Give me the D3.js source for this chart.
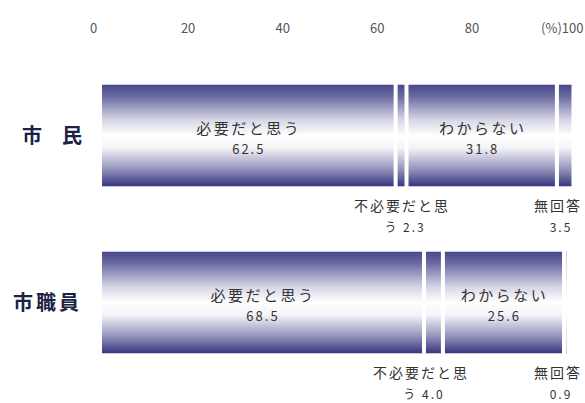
<!DOCTYPE html>
<html>
<head>
<meta charset="utf-8">
<script src="https://cdn.jsdelivr.net/npm/d3@7"></script>
<style>
  body { margin: 0; background: #fff; }
  text { font-family: "Noto Sans CJK JP", "Noto Sans", sans-serif; }
</style>
</head>
<body>
<div class="canvas"></div>
<script>
// data
const categories = ['市　民', '市職員'];
const answers = ['必要だと思う', '不必要だと思う', 'わからない', '無回答'];
const necessary = [62.5, 68.5];
const unnecessary = [2.3, 4.0];
const unknown = [31.8, 25.6];
const noAnswer = [3.5, 0.9];
const tickValues = [0, 20, 40, 60, 80, 100];

// wrapped texts for the labels under the narrow segments
const outsideLines = {
  '不必要だと思う': ['不必要だと思', 'う'],
  '無回答': ['無回答', '']
};

// dimensions
const width = 585;
const height = 403;

const svg = d3.select('.canvas')
  .append('svg')
  .attr('width', width)
  .attr('height', height);

// gradient for bars (navy at edges, white in the middle)
const grad = svg.append('defs').append('linearGradient')
  .attr('id', 'barGrad')
  .attr('x1', 0).attr('y1', 0).attr('x2', 0).attr('y2', 1);
[
  ['0%', '#44448a'],
  ['12%', '#6a6aa2'],
  ['35%', '#d6d6e6'],
  ['50%', '#ffffff'],
  ['62%', '#f4f4f8'],
  ['82%', '#9696be'],
  ['100%', '#30307a']
].forEach(s => grad.append('stop').attr('offset', s[0]).attr('stop-color', s[1]));

// scales
const x = d3.scaleLinear().domain([0, 100]).range([100, 573]);
const y = d3.scaleBand().domain(categories)
  .range([52, 386]).paddingInner(0.38).paddingOuter(0.19);

// table for the stack
const table = categories.map((c, i) => ({
  cat: c,
  [answers[0]]: necessary[i],
  [answers[1]]: unnecessary[i],
  [answers[2]]: unknown[i],
  [answers[3]]: noAnswer[i]
}));
const series = d3.stack().keys(answers)(table);

// top axis
const xAxis = d3.axisTop(x)
  .tickValues(tickValues)
  .tickSize(0)
  .tickFormat(d => d === 100 ? '(%)100' : d);
const xAxisGroup = svg.append('g')
  .attr('transform', 'translate(0, 20)')
  .call(xAxis);
xAxisGroup.select('.domain').remove();
xAxisGroup.selectAll('text')
  .attr('fill', '#555')
  .attr('font-size', 13)
  .attr('y', 13)
  .attr('dx', d => d === 100 ? 10 : -7)
  .attr('text-anchor', d => d === 100 ? 'end' : 'middle');

// category labels
svg.append('g').selectAll('text')
  .data(categories)
  .enter().append('text')
  .attr('x', 82)
  .attr('y', d => y(d) + y.bandwidth() / 2 + 7)
  .attr('text-anchor', 'end')
  .attr('font-size', 20)
  .attr('font-weight', 'bold')
  .attr('letter-spacing', (d, i) => i === 0 ? 0 : 3)
  .attr('fill', '#1c2244')
  .text(d => d);

// bar segments
const layers = svg.append('g').selectAll('g')
  .data(series)
  .enter().append('g');

layers.selectAll('rect')
  .data(s => s.map(d => ({ key: s.key, d })))
  .enter().append('rect')
  .attr('x', p => x(p.d[0]) + 1)
  .attr('y', p => y(p.d.data.cat))
  .attr('width', p => Math.max(1, x(p.d[1]) - x(p.d[0]) - 2))
  .attr('height', y.bandwidth())
  .attr('fill', 'url(#barGrad)')
  .attr('stroke', '#fff')
  .attr('stroke-width', 2);

// labels inside wide segments
const inside = [answers[0], answers[2]];
const outside = [answers[1], answers[3]];

series.filter(s => inside.includes(s.key)).forEach(s => {
  s.forEach(d => {
    const cx = (x(d[0]) + x(d[1])) / 2;
    const cy = y(d.data.cat) + y.bandwidth() / 2;
    const g = svg.append('g').attr('fill', '#333').attr('text-anchor', 'middle');
    g.append('text').attr('x', cx + 1).attr('y', cy - 2)
      .attr('font-size', 15).attr('letter-spacing', 2.5).text(s.key);
    g.append('text').attr('x', cx + 1).attr('y', cy + 18)
      .attr('font-size', 13).attr('letter-spacing', 2).text(d.data[s.key].toFixed(1));
  });
});

// labels under narrow segments
series.filter(s => outside.includes(s.key)).forEach(s => {
  s.forEach(d => {
    let cx = (x(d[0]) + x(d[1])) / 2;
    if (s.key === '無回答') cx = Math.min(cx, 557);
    else cx = Math.min(cx, 420);
    const top = y(d.data.cat) + y.bandwidth();
    const lines = outsideLines[s.key];
    const g = svg.append('g').attr('fill', '#333').attr('text-anchor', 'middle');
    g.append('text').attr('x', cx + 1).attr('y', top + 24)
      .attr('font-size', 14).attr('letter-spacing', 2).text(lines[0]);
    g.append('text').attr('x', cx + 4).attr('y', top + 45)
      .attr('font-size', 12).attr('letter-spacing', 2)
      .text((lines[1] ? lines[1] + ' ' : '') + d.data[s.key].toFixed(1));
  });
});
</script>
</body>
</html>
